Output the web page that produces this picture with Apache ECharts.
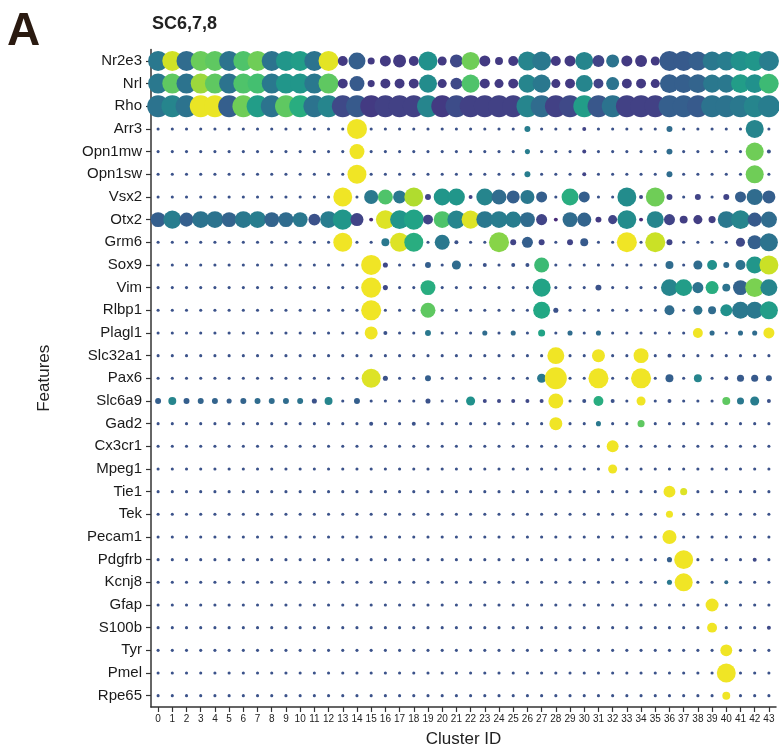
<!DOCTYPE html>
<html><head><meta charset="utf-8">
<script src="https://cdn.jsdelivr.net/npm/echarts@6/dist/echarts.min.js"></script>
<style>html,body{margin:0;padding:0;background:#fff}#c{width:779px;height:753px}</style>
</head><body><div id="c"></div>
<script>
const clusters = ['0','1','2','3','4','5','6','7','8','9','10','11','12','13','14','15','16','17','18','19','20','21','22','23','24','25','26','27','28','29','30','31','32','33','34','35','36','37','38','39','40','41','42','43'];
const features = ['Nr2e3','Nrl','Rho','Arr3','Opn1mw','Opn1sw','Vsx2','Otx2','Grm6','Sox9','Vim','Rlbp1','Plagl1','Slc32a1','Pax6','Slc6a9','Gad2','Cx3cr1','Mpeg1','Tie1','Tek','Pecam1','Pdgfrb','Kcnj8','Gfap','S100b','Tyr','Pmel','Rpe65'];

// percent expressed (per cluster 0..43)
const pct_Nr2e3 = [82,82,82,82,82,82,82,82,82,82,82, 82,82,36,68,23,41,50,36,77,32,50, 73,41,27,36,77,77,36,41,73,45,50, 41,45,32,82,82,77,77,77,82,82,82];
const pct_Nrl = [82,82,82,82,82,82,82,82,82,82,82, 82,82,36,59,23,36,36,36,73,32,45, 73,36,32,36,73,73,32,36,68,36,50, 36,36,32,77,77,77,73,73,77,77,80];
const pct_Rho = [90,90,90,90,90,90,90,90,90,90,90, 90,90,90,90,90,90,90,90,90,90,90, 90,90,90,90,90,90,90,90,90,90,90, 90,90,90,90,90,90,90,90,90,90,90];
const pct_Arr3 = [5,5,5,5,5,5,5,5,5,5,5, 5,5,5,82,5,5,5,5,5,5,5, 5,5,5,5,18,5,5,5,9,5,5, 5,5,5,18,5,5,5,5,5,73,5];
const pct_Opn1mw = [5,5,5,5,5,5,5,5,5,5,5, 5,5,5,59,5,5,5,5,5,5,5, 5,5,5,5,14,5,5,5,9,5,5, 5,5,5,18,5,5,5,5,5,73,9];
const pct_Opn1sw = [5,5,5,5,5,5,5,5,5,5,5, 5,5,5,77,5,5,5,5,5,5,5, 5,5,5,5,18,5,5,5,9,5,5, 5,5,5,18,5,5,5,5,5,73,5];
const pct_Vsx2 = [5,5,5,5,5,5,5,5,5,5,5, 5,5,77,5,55,59,50,77,18,68,68, 9,68,59,50,55,41,5,68,41,5,5, 77,9,77,18,5,18,5,18,41,64,50];
const pct_Otx2 = [59,73,55,68,68,59,68,68,59,59,59, 45,68,82,50,9,77,77,82,36,68,73, 73,68,68,64,59,41,9,59,55,18,32, 77,9,68,41,27,32,23,68,77,55,64];
const pct_Grm6 = [5,5,5,5,5,5,5,5,5,5,5, 5,5,77,5,5,27,77,77,5,59,9, 5,5,82,18,41,18,5,18,27,5,5, 82,5,82,18,5,5,5,5,32,55,73];
const pct_Sox9 = [5,5,5,5,5,5,5,5,5,5,5, 5,5,5,5,82,14,5,5,18,5,32, 5,9,5,9,9,59,5,5,5,5,5, 5,5,5,27,5,32,36,18,36,68,77];
const pct_Vim = [5,5,5,5,5,5,5,5,5,5,5, 5,5,5,5,82,14,5,5,59,5,5, 5,5,5,5,5,73,5,5,5,18,5, 5,5,5,68,68,41,50,27,59,77,68];
const pct_Rlbp1 = [5,5,5,5,5,5,5,5,5,5,5, 5,5,5,5,82,5,5,5,59,5,5, 5,5,5,5,5,68,14,5,5,5,5, 5,5,5,36,5,32,27,45,68,68,73];
const pct_Plagl1 = [5,5,5,5,5,5,5,5,5,5,5, 5,5,5,5,50,9,5,5,18,5,5, 5,14,5,14,5,23,5,14,5,14,5, 5,5,5,5,5,36,14,5,14,14,41];
const pct_Slc32a1 = [5,5,5,5,5,5,5,5,5,5,5, 5,5,5,5,5,5,5,5,5,5,5, 5,5,5,5,5,5,68,5,5,50,5, 5,59,5,9,5,5,5,5,5,5,5];
const pct_Pax6 = [5,5,5,5,5,5,5,5,5,5,5, 5,5,5,5,77,14,5,5,18,5,5, 5,5,5,5,5,32,91,5,5,82,5, 5,82,5,27,5,27,5,9,23,23,18];
const pct_Slc6a9 = [18,27,18,18,18,14,18,18,18,18,18, 14,27,5,18,5,5,5,5,14,5,5, 32,9,9,9,9,9,59,5,9,36,9, 5,32,5,9,5,5,5,27,23,32,9];
const pct_Gad2 = [5,5,5,5,5,5,5,5,5,5,5, 5,5,5,5,9,5,5,9,5,5,5, 5,5,5,5,5,5,50,5,5,14,5, 5,23,5,5,5,5,5,5,5,5,5];
const pct_Cx3cr1 = [5,5,5,5,5,5,5,5,5,5,5, 5,5,5,5,5,5,5,5,5,5,5, 5,5,5,5,5,5,5,5,5,5,45, 5,5,5,5,5,5,5,5,5,5,5];
const pct_Mpeg1 = [5,5,5,5,5,5,5,5,5,5,5, 5,5,5,5,5,5,5,5,5,5,5, 5,5,5,5,5,5,5,5,5,5,32, 5,5,5,5,5,5,5,5,5,5,5];
const pct_Tie1 = [5,5,5,5,5,5,5,5,5,5,5, 5,5,5,5,5,5,5,5,5,5,5, 5,5,5,5,5,5,5,5,5,5,5, 5,5,5,45,23,5,5,5,5,5,5];
const pct_Tek = [5,5,5,5,5,5,5,5,5,5,5, 5,5,5,5,5,5,5,5,5,5,5, 5,5,5,5,5,5,5,5,5,5,5, 5,5,5,23,5,5,5,5,5,5,5];
const pct_Pecam1 = [5,5,5,5,5,5,5,5,5,5,5, 5,5,5,5,5,5,5,5,5,5,5, 5,5,5,5,5,5,5,5,5,5,5, 5,5,5,55,5,5,5,5,5,5,5];
const pct_Pdgfrb = [5,5,5,5,5,5,5,5,5,5,5, 5,5,5,5,5,5,5,5,5,5,5, 5,5,5,5,5,5,5,5,5,5,5, 5,5,5,14,77,5,5,5,5,9,5];
const pct_Kcnj8 = [5,5,5,5,5,5,5,5,5,5,5, 5,5,5,5,5,5,5,5,5,5,5, 5,5,5,5,5,5,5,5,5,5,5, 5,5,5,14,73,5,5,9,5,5,5];
const pct_Gfap = [5,5,5,5,5,5,5,5,5,5,5, 5,5,5,5,5,5,5,5,5,5,5, 5,5,5,5,5,5,5,5,5,5,5, 5,5,5,5,5,5,50,5,5,5,5];
const pct_S100b = [5,5,5,5,5,5,5,5,5,5,5, 5,5,5,5,5,5,5,5,5,5,5, 5,5,5,5,5,5,5,5,5,5,5, 5,5,5,5,5,5,36,5,5,5,9];
const pct_Tyr = [5,5,5,5,5,5,5,5,5,5,5, 5,5,5,5,5,5,5,5,5,5,5, 5,5,5,5,5,5,5,5,5,5,5, 5,5,5,5,5,5,5,45,5,5,5];
const pct_Pmel = [5,5,5,5,5,5,5,5,5,5,5, 5,5,5,5,5,5,5,5,5,5,5, 5,5,5,5,5,5,5,5,5,5,5, 5,5,5,5,5,5,5,77,5,5,5];
const pct_Rpe65 = [5,5,5,5,5,5,5,5,5,5,5, 5,5,5,5,5,5,5,5,5,5,5, 5,5,5,5,5,5,5,5,5,5,5, 5,5,5,5,5,5,5,27,5,5,5];

// scaled average expression (0..100)
const avg_Nr2e3 = [40,93,35,77,75,38,72,78,38,52,55, 38,96,17,30,17,17,17,17,50,17,22, 78,17,17,17,45,40,17,17,45,20,38, 17,17,17,28,28,30,40,42,50,52,42];
const avg_Nrl = [40,75,38,85,75,38,72,70,40,52,52, 40,75,17,28,17,17,17,17,48,17,22, 72,17,17,17,45,40,17,17,45,20,38, 17,17,17,30,30,32,40,40,55,50,68];
const avg_Rho = [38,45,38,97,97,30,78,55,38,75,62, 38,45,22,28,17,19,19,19,45,17,23, 19,19,19,19,45,35,19,22,55,27,38, 19,19,19,30,30,28,38,38,40,45,42];
const avg_Arr3 = [25,25,25,25,25,25,25,25,25,25,25, 25,25,25,98,25,25,25,25,25,25,25, 25,25,25,25,42,25,25,25,20,25,25, 25,25,25,35,25,25,25,25,25,45,25];
const avg_Opn1mw = [25,25,25,25,25,25,25,25,25,25,25, 25,25,25,98,25,25,25,25,25,25,25, 25,25,25,25,42,25,25,25,20,25,25, 25,25,25,35,25,25,25,25,25,78,25];
const avg_Opn1sw = [25,25,25,25,25,25,25,25,25,25,25, 25,25,25,98,25,25,25,25,25,25,25, 25,25,25,25,42,25,25,25,20,25,25, 25,25,25,35,25,25,25,25,25,78,25];
const avg_Vsx2 = [25,25,25,25,25,25,25,25,25,25,25, 25,25,98,25,40,72,40,88,20,52,52, 20,45,35,30,40,30,25,62,30,25,25, 48,22,78,20,25,20,25,20,30,35,30];
const avg_Otx2 = [30,42,30,38,38,32,40,42,32,35,40, 25,42,52,20,12,95,52,58,20,72,45, 95,40,42,42,35,20,12,35,32,17,20, 48,12,45,20,18,18,18,40,45,28,35];
const avg_Grm6 = [25,25,25,25,25,25,25,25,25,25,25, 25,25,98,25,25,40,95,62,25,40,25, 25,25,82,20,30,20,25,20,28,25,25, 98,25,92,20,25,25,25,25,22,30,38];
const avg_Sox9 = [25,25,25,25,25,25,25,25,25,25,25, 25,25,25,25,98,22,25,25,30,25,35, 25,25,25,25,25,68,25,25,25,25,25, 25,25,25,35,25,35,50,35,38,52,92];
const avg_Vim = [25,25,25,25,25,25,25,25,25,25,25, 25,25,25,25,98,22,25,25,62,25,25, 25,25,25,25,25,58,25,25,25,25,25, 25,25,25,45,55,38,62,38,32,80,45];
const avg_Rlbp1 = [25,25,25,25,25,25,25,25,25,25,25, 25,25,25,25,98,25,25,25,75,25,25, 25,25,25,25,25,60,25,25,25,25,25, 25,25,25,35,25,38,35,50,40,40,55];
const avg_Plagl1 = [25,25,25,25,25,25,25,25,25,25,25, 25,25,25,25,98,25,25,25,40,25,25, 25,35,25,35,25,58,25,35,25,35,25, 25,25,25,25,25,98,35,25,35,35,98];
const avg_Slc32a1 = [25,25,25,25,25,25,25,25,25,25,25, 25,25,25,25,25,25,25,25,25,25,25, 25,25,25,25,25,25,98,25,25,98,25, 25,98,25,25,25,25,25,25,25,25,25];
const avg_Pax6 = [25,25,25,25,25,25,25,25,25,25,25, 25,25,25,25,95,25,25,25,30,25,25, 25,25,25,25,25,40,98,25,25,98,25, 25,98,25,30,25,45,25,25,28,28,28];
const avg_Slc6a9 = [30,45,30,32,32,30,32,35,35,35,38, 25,45,25,30,25,25,25,25,25,25,25, 50,22,22,22,22,22,98,25,25,62,25, 25,98,25,25,25,25,25,75,40,42,25];
const avg_Gad2 = [25,25,25,25,25,25,25,25,25,25,25, 25,25,25,25,25,25,25,25,25,25,25, 25,25,25,25,25,25,98,25,25,40,25, 25,75,25,25,25,25,25,25,25,25,25];
const avg_Cx3cr1 = [25,25,25,25,25,25,25,25,25,25,25, 25,25,25,25,25,25,25,25,25,25,25, 25,25,25,25,25,25,25,25,25,25,98, 25,25,25,25,25,25,25,25,25,25,25];
const avg_Mpeg1 = [25,25,25,25,25,25,25,25,25,25,25, 25,25,25,25,25,25,25,25,25,25,25, 25,25,25,25,25,25,25,25,25,25,98, 25,25,25,25,25,25,25,25,25,25,25];
const avg_Tie1 = [25,25,25,25,25,25,25,25,25,25,25, 25,25,25,25,25,25,25,25,25,25,25, 25,25,25,25,25,25,25,25,25,25,25, 25,25,25,98,95,25,25,25,25,25,25];
const avg_Tek = [25,25,25,25,25,25,25,25,25,25,25, 25,25,25,25,25,25,25,25,25,25,25, 25,25,25,25,25,25,25,25,25,25,25, 25,25,25,98,25,25,25,25,25,25,25];
const avg_Pecam1 = [25,25,25,25,25,25,25,25,25,25,25, 25,25,25,25,25,25,25,25,25,25,25, 25,25,25,25,25,25,25,25,25,25,25, 25,25,25,98,25,25,25,25,25,25,25];
const avg_Pdgfrb = [25,25,25,25,25,25,25,25,25,25,25, 25,25,25,25,25,25,25,25,25,25,25, 25,25,25,25,25,25,25,25,25,25,25, 25,25,25,30,98,25,25,25,25,22,25];
const avg_Kcnj8 = [25,25,25,25,25,25,25,25,25,25,25, 25,25,25,25,25,25,25,25,25,25,25, 25,25,25,25,25,25,25,25,25,25,25, 25,25,25,40,98,25,25,35,25,25,25];
const avg_Gfap = [25,25,25,25,25,25,25,25,25,25,25, 25,25,25,25,25,25,25,25,25,25,25, 25,25,25,25,25,25,25,25,25,25,25, 25,25,25,25,25,25,98,25,25,25,25];
const avg_S100b = [25,25,25,25,25,25,25,25,25,25,25, 25,25,25,25,25,25,25,25,25,25,25, 25,25,25,25,25,25,25,25,25,25,25, 25,25,25,25,25,25,98,25,25,25,22];
const avg_Tyr = [25,25,25,25,25,25,25,25,25,25,25, 25,25,25,25,25,25,25,25,25,25,25, 25,25,25,25,25,25,25,25,25,25,25, 25,25,25,25,25,25,25,98,25,25,25];
const avg_Pmel = [25,25,25,25,25,25,25,25,25,25,25, 25,25,25,25,25,25,25,25,25,25,25, 25,25,25,25,25,25,25,25,25,25,25, 25,25,25,25,25,25,25,98,25,25,25];
const avg_Rpe65 = [25,25,25,25,25,25,25,25,25,25,25, 25,25,25,25,25,25,25,25,25,25,25, 25,25,25,25,25,25,25,25,25,25,25, 25,25,25,25,25,25,25,98,25,25,25];

const pctRows = [pct_Nr2e3,pct_Nrl,pct_Rho,pct_Arr3,pct_Opn1mw,pct_Opn1sw,pct_Vsx2,pct_Otx2,pct_Grm6,pct_Sox9,pct_Vim,pct_Rlbp1,pct_Plagl1,pct_Slc32a1,pct_Pax6,pct_Slc6a9,pct_Gad2,pct_Cx3cr1,pct_Mpeg1,pct_Tie1,pct_Tek,pct_Pecam1,pct_Pdgfrb,pct_Kcnj8,pct_Gfap,pct_S100b,pct_Tyr,pct_Pmel,pct_Rpe65];
const avgRows = [avg_Nr2e3,avg_Nrl,avg_Rho,avg_Arr3,avg_Opn1mw,avg_Opn1sw,avg_Vsx2,avg_Otx2,avg_Grm6,avg_Sox9,avg_Vim,avg_Rlbp1,avg_Plagl1,avg_Slc32a1,avg_Pax6,avg_Slc6a9,avg_Gad2,avg_Cx3cr1,avg_Mpeg1,avg_Tie1,avg_Tek,avg_Pecam1,avg_Pdgfrb,avg_Kcnj8,avg_Gfap,avg_S100b,avg_Tyr,avg_Pmel,avg_Rpe65];

const data = [];
for (let i = 0; i < features.length; i++) {
  for (let j = 0; j < clusters.length; j++) {
    data.push([j, i, pctRows[i][j], avgRows[i][j]]);
  }
}

const viridis = ['#440154','#482475','#414487','#355f8d','#2a788e','#21918c','#22a884','#44bf70','#7ad151','#bddf26','#fde725'];
const FONT = 'Liberation Sans';
const chart = echarts.init(document.getElementById('c'), null, {renderer: 'canvas'});
chart.setOption({
  animation: false,
  backgroundColor: '#ffffff',
  textStyle: {fontFamily: FONT},
  graphic: [
    {type: 'text', left: 7, top: 9, style: {text: 'A', font: 'bold 46px "Liberation Sans"', fill: '#2a1a10'}},
    {type: 'text', left: 152, top: 15, style: {text: 'SC6,7,8', font: 'bold 18px "Liberation Sans"', fill: '#222'}}
  ],
  grid: {left: 151, right: 3, top: 49.6, bottom: 753 - 708.4, containLabel: false},
  xAxis: {
    type: 'category', data: clusters, boundaryGap: true,
    name: 'Cluster ID', nameLocation: 'middle', nameGap: 24,
    nameTextStyle: {fontSize: 17, color: '#222', fontFamily: FONT},
    axisLine: {show: true, lineStyle: {color: '#333', width: 1.5}},
    axisTick: {show: true, alignWithLabel: true, length: 5, lineStyle: {color: '#333', width: 1.2}},
    axisLabel: {interval: 0, fontSize: 10, color: '#222', margin: 7, fontFamily: FONT},
    splitLine: {show: false}
  },
  yAxis: {
    type: 'category', data: features, inverse: true, boundaryGap: true,
    name: 'Features', nameLocation: 'middle', nameGap: 98, nameRotate: 90,
    nameTextStyle: {fontSize: 17, color: '#222', fontFamily: FONT},
    axisLine: {show: true, lineStyle: {color: '#333', width: 1.5}},
    axisTick: {show: true, alignWithLabel: true, length: 5, lineStyle: {color: '#333', width: 1.2}},
    axisLabel: {interval: 0, fontSize: 15, color: '#1a1a1a', margin: 9, fontFamily: FONT},
    splitLine: {show: false}
  },
  visualMap: {
    type: 'continuous', show: false, dimension: 3, min: 0, max: 100, seriesIndex: 0,
    inRange: {color: viridis}
  },
  series: [{
    type: 'scatter',
    data: data,
    symbol: 'circle',
    symbolSize: function (v) { return 2 + v[2] * 0.22; },
    itemStyle: {opacity: 1},
    emphasis: {disabled: true}
  }]
});
</script>
</body></html>
